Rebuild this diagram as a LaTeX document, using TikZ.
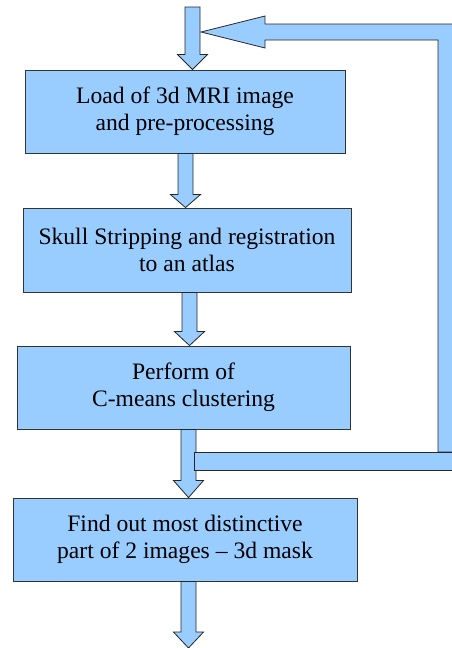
\documentclass[tikz,border=0pt]{standalone}
\usepackage{fontspec}
\newfontfamily\timesfont[Ligatures=TeX]{Liberation Serif}
\usetikzlibrary{calc}
\definecolor{boxblue}{HTML}{99CCFF}
\tikzset{
  box/.style={draw=black!80, line width=0.9pt, fill=boxblue, inner sep=0pt,
    align=center, font=\timesfont\fontsize{23.6}{27}\selectfont},
  arrowfill/.style={draw=black!85, line width=0.8pt, fill=boxblue, line join=miter},
}
% block arrow: #1 x-centre coordinate, #2 start, #3 end (tip), #4 head length
\newcommand\blockarrow[4]{%
  \path (#1|-#2) coordinate (ba-s) (#1|-#3) coordinate (ba-t);
  \filldraw[arrowfill] ($(ba-s)+(-7.5,0)$) -- ($(ba-t)+(-7.5,-#4)$) -- ($(ba-t)+(-15,-#4)$)
    -- (ba-t) -- ($(ba-t)+(15,-#4)$) -- ($(ba-t)+(7.5,-#4)$) -- ($(ba-s)+(7.5,0)$) -- cycle;}
\begin{document}
\begin{tikzpicture}[x=1pt,y=-1pt]
\useasboundingbox (0,0) rectangle (452,648);
\clip (0,0) rectangle (452,648);

% boxes
\node[box, minimum width=320pt, minimum height=83pt] (b1) at (185,111.5)
  {Load of 3d MRI image\\and pre-processing};
\node[box, minimum width=328pt, minimum height=84pt] (b2) at (187,250)
  {Skull Stripping and registration\\to an atlas};
\node[box, minimum width=333pt, minimum height=83pt] (b3) at (183.5,387.5)
  {Perform of\\C-means clustering};
\node[box, minimum width=344pt, minimum height=83pt] (b4) at (185,539.5)
  {Find out most distinctive\\part of 2 images -- 3d mask};

% arrow column centres
\coordinate (x0) at (192.5,0);
\coordinate (x1) at (185.5,0);
\coordinate (x2) at (189.5,0);
\coordinate (x3) at (188.5,0);
\coordinate (x4) at (188.5,0);
\coordinate (topstart) at (192.5,7);
\coordinate (botend) at (188.5,648);

% feedback loop
\filldraw[arrowfill] (201,32) -- (265,16) -- (265,24) -- (460,24) -- (460,452)
  -- (438,452) -- (438,40) -- (265,40) -- (265,48) -- cycle;

% straight block arrows
\blockarrow{x0}{topstart}{b1.north}{15}
\blockarrow{x1}{b1.south}{b2.north}{13}
\blockarrow{x2}{b2.south}{b3.north}{14}
\blockarrow{x3}{b3.south}{b4.north}{17}
\blockarrow{x4}{b4.south}{botend}{16}

% feedback bottom bar
\filldraw[arrowfill] (194,452) rectangle (460,470);
\end{tikzpicture}
\end{document}
